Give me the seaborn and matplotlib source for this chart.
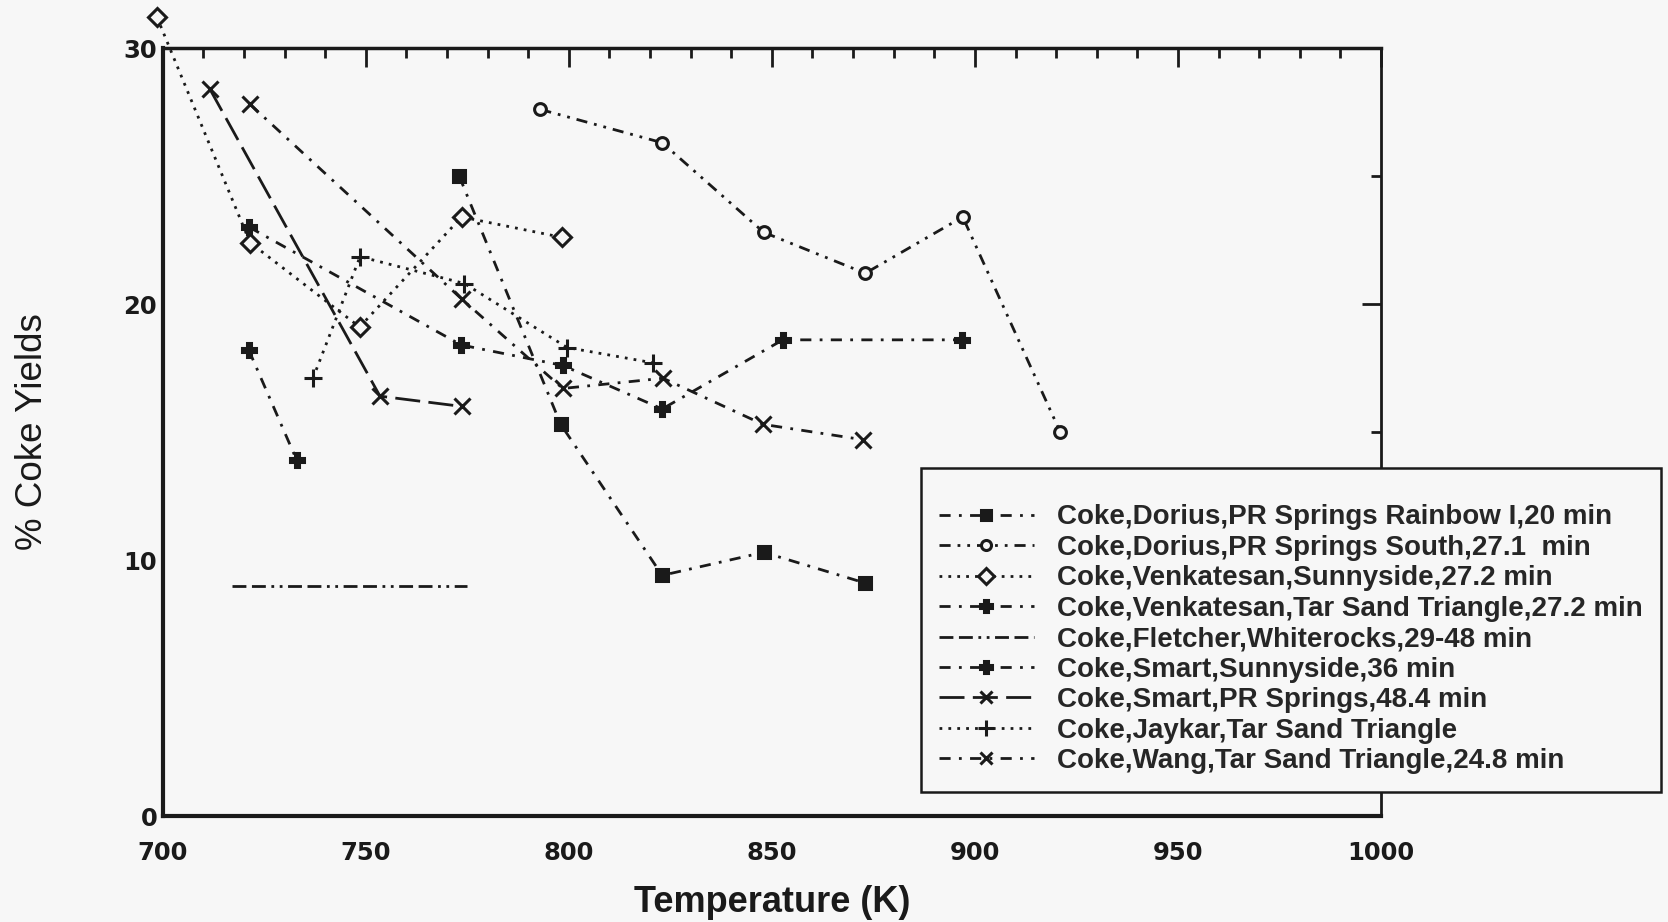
import matplotlib
matplotlib.use("Agg")
import matplotlib.pyplot as plt
from matplotlib.ticker import MultipleLocator
import seaborn as sns

# Coke yield (%) versus reactor temperature (K) for several studies
rainbow_T = [773, 798, 823, 848, 873]
rainbow_Y = [25.0, 15.3, 9.4, 10.3, 9.1]

south_T = [793, 823, 848, 873, 897, 921]
south_Y = [27.6, 26.3, 22.8, 21.2, 23.4, 15.0]

venk_sunny_T = [698.6, 721.5, 748.5, 773.6, 798.4]
venk_sunny_Y = [31.2, 22.4, 19.1, 23.4, 22.6]

venk_tst_T = [721.2, 733]
venk_tst_Y = [18.2, 13.9]

fletcher_T = [717, 775]
fletcher_Y = [9.0, 9.0]

smart_sunny_T = [721.3, 773.5, 798.5, 823, 852.7, 896.8]
smart_sunny_Y = [23.0, 18.4, 17.6, 15.9, 18.6, 18.6]

smart_pr_T = [711.6, 753.5, 773.6]
smart_pr_Y = [28.4, 16.4, 16.0]

jaykar_T = [737, 748.6, 774.3, 799.6, 820.8]
jaykar_Y = [17.1, 21.85, 20.8, 18.3, 17.7]

wang_T = [721.5, 773.6, 798.5, 823.2, 847.8, 872.4]
wang_Y = [27.8, 20.2, 16.7, 17.1, 15.3, 14.7]

labels = [
    "Coke,Dorius,PR Springs Rainbow I,20 min",
    "Coke,Dorius,PR Springs South,27.1  min",
    "Coke,Venkatesan,Sunnyside,27.2 min",
    "Coke,Venkatesan,Tar Sand Triangle,27.2 min",
    "Coke,Fletcher,Whiterocks,29-48 min",
    "Coke,Smart,Sunnyside,36 min",
    "Coke,Smart,PR Springs,48.4 min",
    "Coke,Jaykar,Tar Sand Triangle",
    "Coke,Wang,Tar Sand Triangle,24.8 min",
]

x_ticks = [700, 750, 800, 850, 900, 950, 1000]
y_ticks = [0, 10, 20, 30]

BG = "#f7f7f7"
sns.set_theme(style="white")
plt.rcParams["font.family"] = ["Liberation Sans", "DejaVu Sans"]

fig = plt.figure(figsize=(16.68, 9.22), dpi=100, facecolor=BG)
ax = fig.add_axes([162.7 / 1668, 1 - 816 / 922, (1381 - 162.7) / 1668, (816 - 48) / 922])
ax.set_facecolor(BG)

dash_dot = (0, (4, 3, 1, 3))
series = [
    (rainbow_T, rainbow_Y, dict(marker="s", ms=9, mfc="k", linestyle=dash_dot)),
    (south_T, south_Y, dict(marker="o", ms=8.5, mfc=BG, linestyle=(0, (4, 2.5, 1, 2.5, 1, 2.5)))),
    (venk_sunny_T, venk_sunny_Y, dict(marker="D", ms=9, mfc=BG, linestyle=(0, (1, 2.2)))),
    (venk_tst_T, venk_tst_Y, dict(marker="P", ms=10, mfc="k", linestyle=dash_dot)),
    (fletcher_T, fletcher_Y, dict(marker=None, linestyle=(0, (5, 2, 5, 2, 1, 2, 1, 2)))),
    (smart_sunny_T, smart_sunny_Y, dict(marker="P", ms=10, mfc="k", linestyle=dash_dot)),
    (smart_pr_T, smart_pr_Y, dict(marker="x", ms=11, linestyle=(0, (9, 3)))),
    (jaykar_T, jaykar_Y, dict(marker="+", ms=13, linestyle=(0, (1, 2.2)))),
    (wang_T, wang_Y, dict(marker="x", ms=11, linestyle=dash_dot)),
]

for (tx, ty, style), lab in zip(series, labels):
    sns.lineplot(x=tx, y=ty, ax=ax, color="k", lw=2.0, sort=False, estimator=None,
                 mec="k", mew=2.2, clip_on=False, label=lab, legend=False, **style)

ax.set_xlim(700, 1000)
ax.set_ylim(0, 30)
ax.set_xticks(x_ticks)
ax.set_yticks(y_ticks)
ax.xaxis.set_minor_locator(MultipleLocator(10))
ax.yaxis.set_minor_locator(MultipleLocator(5))
ax.tick_params(which="both", direction="in", top=True, right=True, width=2, color="k")
ax.tick_params(which="major", length=14)
ax.tick_params(which="minor", length=7)
ax.tick_params(axis="x", which="major", pad=18)
ax.tick_params(axis="y", which="major", pad=4)
for lbl in ax.get_xticklabels() + ax.get_yticklabels():
    lbl.set_fontfamily("DejaVu Sans")
    lbl.set_fontweight("bold")
    lbl.set_fontsize(17.5)
    lbl.set_color("k")

for side in ["left", "bottom", "top", "right"]:
    ax.spines[side].set_color("k")
    ax.spines[side].set_visible(True)
ax.spines["left"].set_linewidth(3)
ax.spines["bottom"].set_linewidth(3)
ax.spines["top"].set_linewidth(2.5)
ax.spines["right"].set_linewidth(2)

ax.set_xlabel("Temperature (K)", fontsize=26, fontweight="bold", color="k")
ax.xaxis.label.set_verticalalignment("center")
ax.xaxis.set_label_coords(0.5, -0.112)
ax.set_ylabel("% Coke Yields", fontsize=26.5, color="k")
ax.yaxis.label.set_verticalalignment("center")
ax.yaxis.set_label_coords(-0.107, 0.5)

leg = ax.legend(loc="upper left", bbox_to_anchor=(921 / 1668, 1 - 468 / 922),
                bbox_transform=fig.transFigure, borderaxespad=0,
                prop={"family": "Liberation Sans", "weight": "bold", "size": 20},
                handlelength=3.4, handletextpad=0.85, labelspacing=0.16,
                borderpad=0.65, numpoints=1, frameon=True, fancybox=False,
                title=" ", title_fontsize=10, markerscale=0.85)
leg.get_frame().set_edgecolor("k")
leg.get_frame().set_linewidth(1.8)
leg.get_frame().set_facecolor(BG)
leg.get_frame().set_alpha(1)

fig.savefig("out.png", dpi=100, facecolor=BG)
